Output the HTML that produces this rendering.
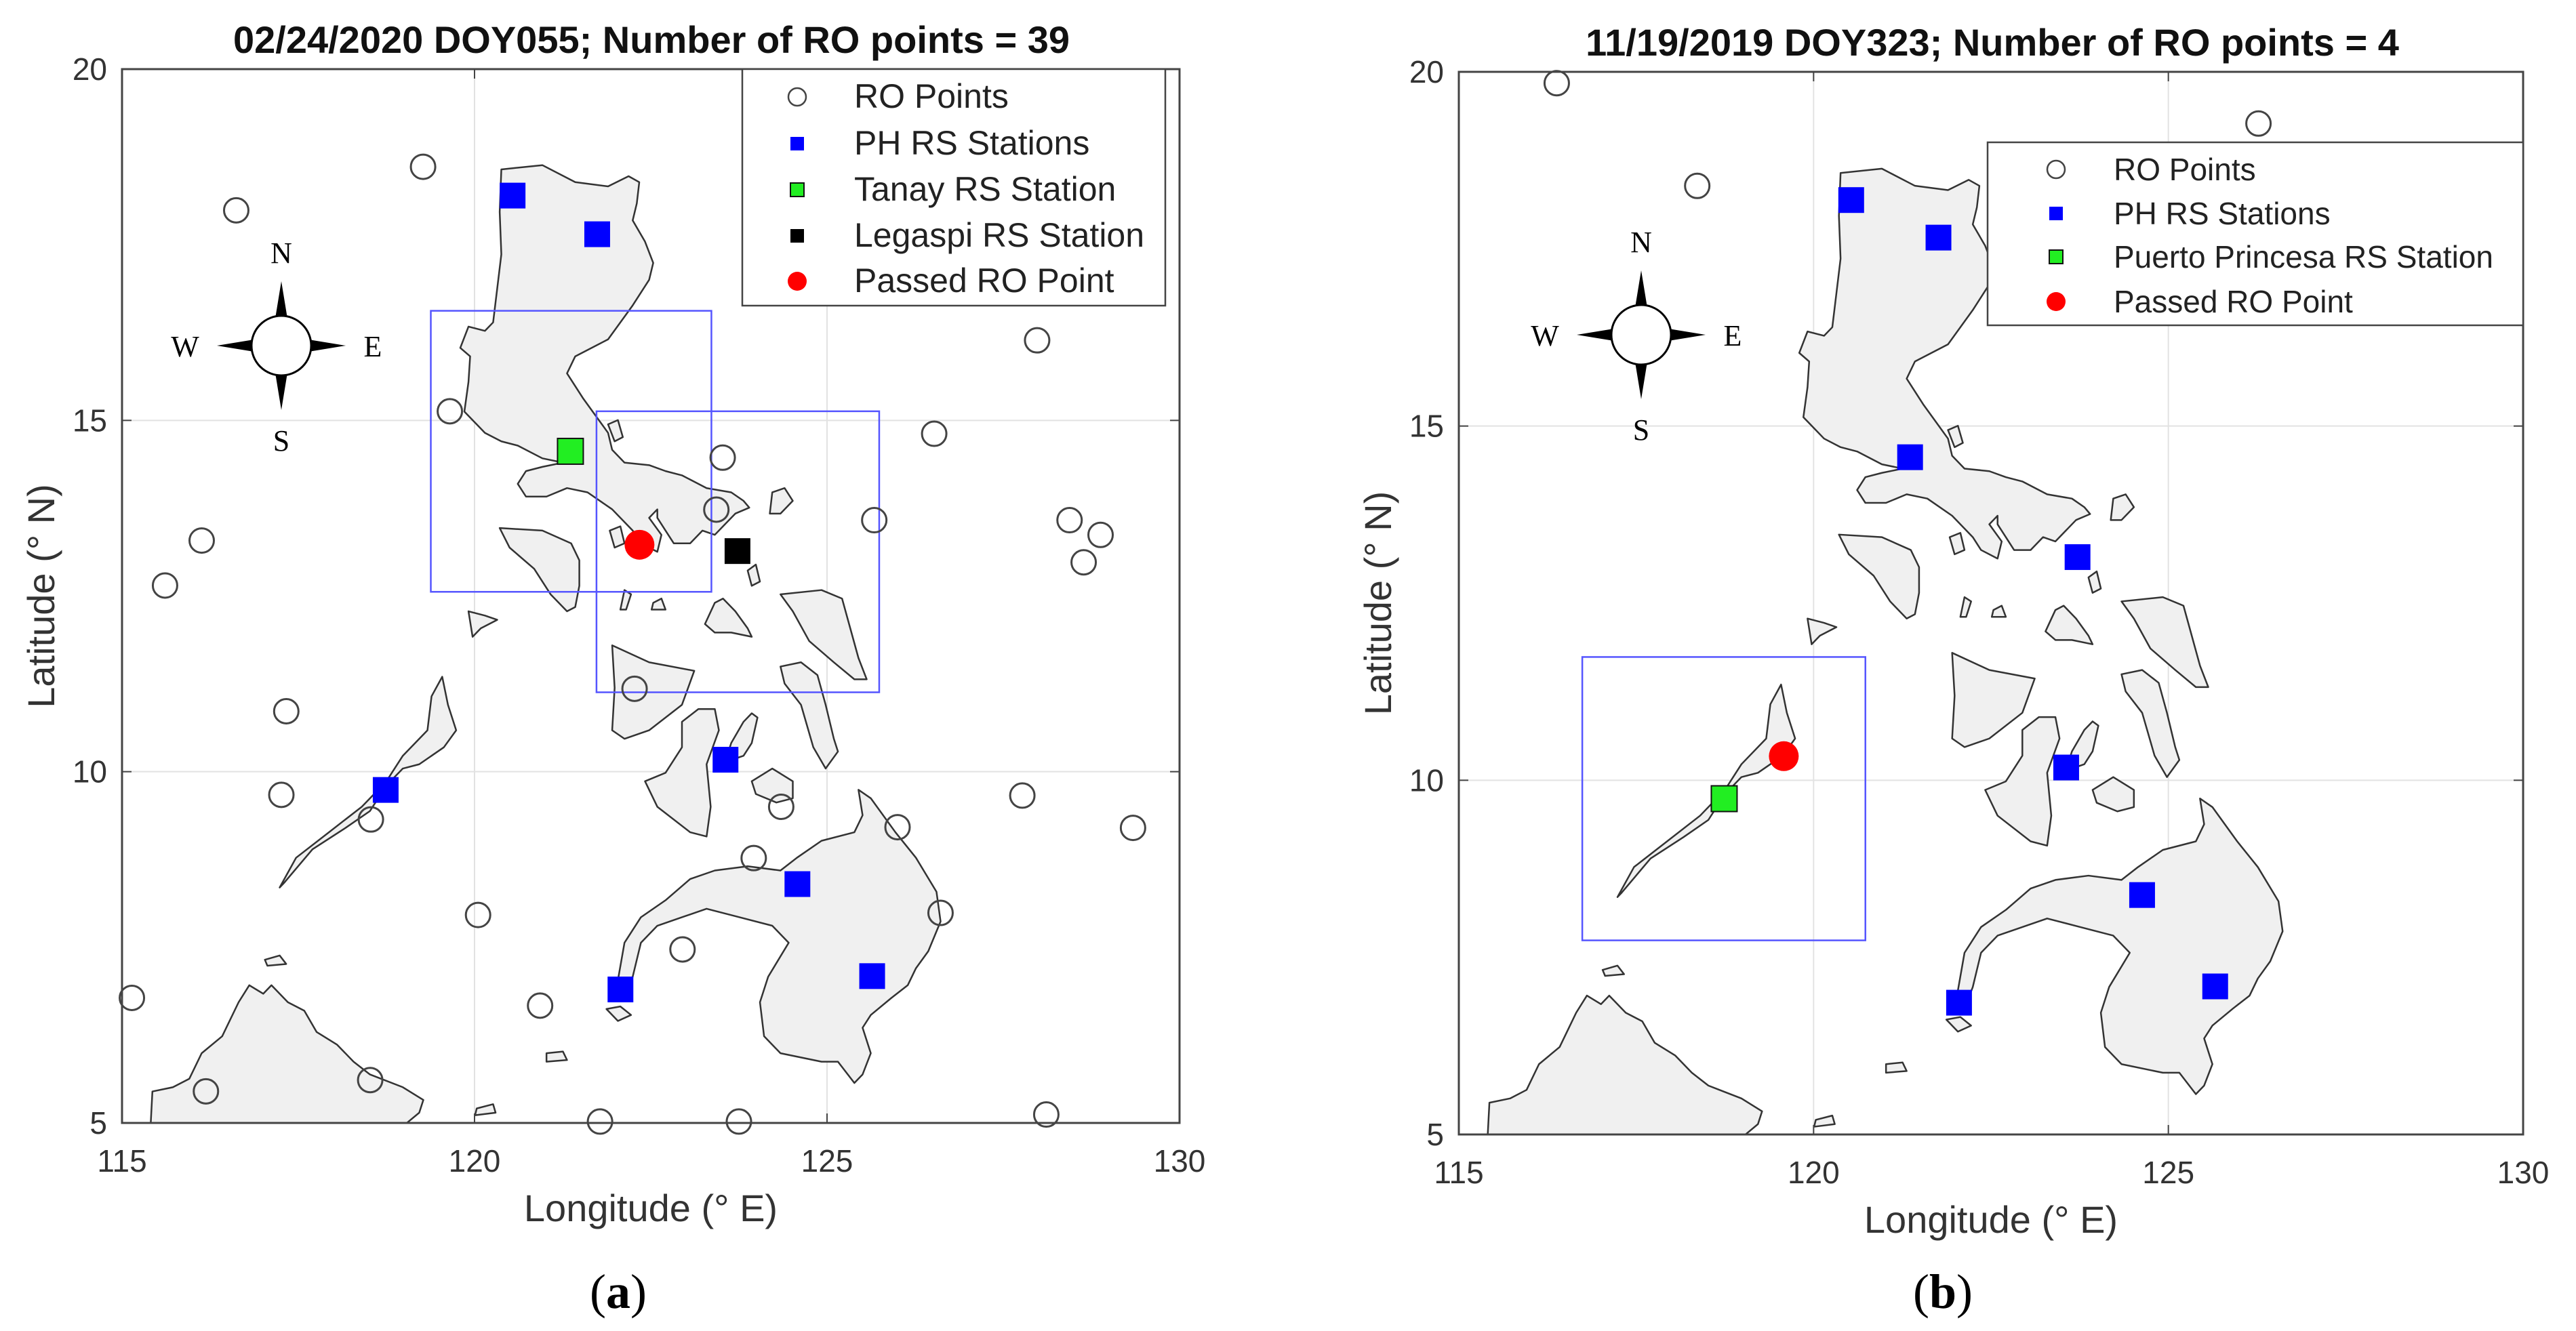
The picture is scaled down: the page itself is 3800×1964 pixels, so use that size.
<!DOCTYPE html>
<html><head><meta charset="utf-8"><style>
body{margin:0;background:#fff;}
svg{display:block;font-family:"Liberation Sans",sans-serif;}
</style></head><body>
<svg id="fig" width="3800" height="1964" xmlns="http://www.w3.org/2000/svg"></svg>
<script>
// ---- data (lon, lat) ----
const roLonA=[116.62,119.27,119.65,116.13,115.61,117.33,117.26,118.53,120.05,120.93,115.14,116.19,118.52,121.78,123.75,122.27,123.52,123.43,125.67,126.52,127.98,128.44,128.88,128.64,127.77,129.34,126.00,126.61,124.35,123.96,122.95,128.11];
const roLatA=[17.99,18.61,15.13,13.29,12.65,10.86,9.67,9.32,7.96,6.67,6.78,5.45,5.61,5.02,5.02,11.18,14.47,13.73,13.58,14.81,16.14,13.58,13.37,12.98,9.66,9.20,9.21,7.99,9.50,8.77,7.47,5.12];
const phLonA=[120.54,121.74,123.56,118.74,124.58,122.07,125.64];
const phLatA=[18.2,17.65,10.17,9.74,8.40,6.90,7.09];
const roLonB=[116.38,118.36,126.27];
const roLatB=[19.84,18.39,19.27];
const phLonB=[120.53,121.76,121.36,123.72,123.56,124.63,122.05,125.66];
const phLatB=[18.19,17.66,14.56,13.15,10.18,8.38,6.86,7.09];
const greenA=[121.36,14.56], blackA=[123.73,13.14], redA=[122.34,13.23];
const greenB=[118.74,9.74], redB=[119.58,10.34];
const boxesA=[[119.38,123.36,12.56,16.56],[121.73,125.74,11.13,15.13]];
const boxesB=[[116.74,120.73,7.74,11.74]];
const xTicks=[115,120,125,130], yTicks=[5,10,15,20];
// land outlines in reference-grid units (converted to lon/lat below)
const landRef=[
[[610,200],[660,195],[700,215],[740,220],[765,208],[778,215],[775,240],[770,260],[785,285],[795,310],[790,330],[770,360],[740,400],[700,420],[690,440],[710,470],[725,490],[740,510],[745,530],[760,545],[790,548],[810,555],[830,560],[860,575],[890,580],[905,590],[912,598],[895,605],[880,620],[870,630],[855,625],[840,640],[820,640],[810,625],[800,610],[800,600],[790,610],[805,630],[800,650],[780,640],[770,625],[745,600],[715,580],[690,575],[665,585],[640,585],[630,570],[640,555],[660,550],[685,545],[660,540],[630,525],[610,520],[590,510],[565,485],[570,450],[572,420],[560,410],[570,385],[590,390],[600,380],[605,340],[610,300],[608,250]],
[[608,622],[660,625],[695,640],[705,660],[705,690],[700,715],[690,720],[670,700],[650,670],[620,645]],
[[742,625],[755,620],[760,640],[748,645]],
[[740,500],[752,495],[758,515],[748,520]],
[[940,580],[955,575],[965,590],[950,605],[937,605]],
[[910,672],[920,665],[925,685],[915,690]],
[[745,760],[790,780],[845,790],[830,830],[790,860],[760,870],[745,860],[748,810]],
[[830,850],[850,835],[870,835],[875,860],[860,900],[865,950],[860,985],[840,980],[800,950],[785,920],[810,910],[830,880]],
[[905,850],[915,840],[922,845],[915,875],[905,890],[890,895],[880,905],[890,875]],
[[915,920],[940,905],[965,920],[965,940],[945,945],[920,935]],
[[950,700],[1000,695],[1025,705],[1035,740],[1045,775],[1055,800],[1040,800],[1015,780],[985,755],[965,720]],
[[950,785],[975,780],[995,795],[1005,830],[1015,870],[1020,885],[1005,905],[990,880],[975,830],[955,805]],
[[870,710],[880,705],[895,720],[910,740],[915,750],[890,745],[870,745],[858,735]],
[[760,695],[768,700],[762,718],[755,718]],
[[795,710],[805,705],[810,718],[793,718]],
[[750,1165],[760,1110],[780,1080],[810,1060],[840,1035],[870,1025],[910,1020],[950,1025],[970,1010],[1000,990],[1040,980],[1050,960],[1045,930],[1060,940],[1090,980],[1115,1010],[1140,1050],[1145,1085],[1130,1120],[1115,1140],[1105,1160],[1085,1175],[1060,1195],[1050,1210],[1060,1240],[1050,1265],[1040,1275],[1020,1250],[1000,1250],[950,1240],[930,1220],[925,1180],[935,1150],[960,1110],[940,1090],[900,1080],[860,1070],[830,1080],[800,1090],[780,1110],[770,1150],[762,1170]],
[[340,1045],[360,1010],[400,980],[440,950],[470,920],[490,890],[520,860],[525,820],[538,797],[545,830],[555,860],[540,880],[510,900],[490,905],[470,925],[450,955],[420,975],[380,1000],[345,1040]],
[[570,720],[590,725],[605,730],[585,740],[575,750]],
[[183,1322],[185,1285],[210,1280],[230,1270],[245,1240],[270,1220],[290,1180],[303,1160],[320,1170],[330,1160],[350,1180],[370,1190],[385,1215],[410,1230],[430,1250],[450,1265],[490,1280],[515,1295],[510,1310],[495,1322]],
[[322,1130],[340,1125],[348,1135],[325,1137]],
[[665,1240],[685,1238],[690,1248],[665,1250]],
[[580,1305],[600,1300],[603,1310],[578,1313]],
[[738,1188],[755,1185],[768,1195],[752,1202]]
];
const land=landRef.map(p=>p.map(([a,b])=>[115+(a-148)/85.87,20-(b-82)/82.67]));

const NS="http://www.w3.org/2000/svg";
const fig=document.getElementById('fig');
function mk(tag,attrs,parent,text){const e=document.createElementNS(NS,tag);for(const k in attrs)e.setAttribute(k,attrs[k]);if(text!==undefined)e.textContent=text;(parent||fig).appendChild(e);return e;}

function panel(P){
  const g=mk('g',{});
  
  
  const sx=v=>P.x0+(v-115)/15*(P.x1-P.x0);
  const sy=v=>P.y1-(v-5)/15*(P.y1-P.y0);
  const cid='clip'+P.name;
  const cp=mk('clipPath',{id:cid},g);mk('rect',{x:P.x0,y:P.y0,width:P.x1-P.x0,height:P.y1-P.y0},cp);
  xTicks.forEach(t=>{const l=mk('line',{x1:sx(t),x2:sx(t),y1:P.y0,y2:P.y1,stroke:'#e2e2e2','stroke-width':2},g);});
  yTicks.forEach(t=>{const l=mk('line',{y1:sy(t),y2:sy(t),x1:P.x0,x2:P.x1,stroke:'#e2e2e2','stroke-width':2},g);});
  const lg=mk('g',{'clip-path':'url(#'+cid+')'},g);
  land.forEach(poly=>{const p=mk('polygon',{points:poly.map(([a,b])=>sx(a)+','+sy(b)).join(' '),fill:'#f0f0f0',stroke:'#333','stroke-width':2.5,'stroke-linejoin':'round'},lg);});
  P.boxes.forEach(b=>{const r=mk('rect',{x:sx(b[0]),y:sy(b[3]),width:sx(b[1])-sx(b[0]),height:sy(b[2])-sy(b[3]),fill:'none',stroke:'#5555ff','stroke-width':2.5},g);});
  P.roLon.forEach((v,i)=>{const c=mk('circle',{cx:sx(v),cy:sy(P.roLat[i]),r:18,fill:'none',stroke:'#444','stroke-width':3},g);});
  P.phLon.forEach((v,i)=>{const r=mk('rect',{x:sx(v)-19,y:sy(P.phLat[i])-19,width:38,height:38,fill:'#0000ff'},g);});
  {const r=mk('rect',{x:sx(P.green[0])-19,y:sy(P.green[1])-19,width:38,height:38,fill:'#22ee22',stroke:'#111','stroke-width':2},g);}
  if(P.black){const r=mk('rect',{x:sx(P.black[0])-19,y:sy(P.black[1])-19,width:38,height:38,fill:'#000'},g);}
  {const c=mk('circle',{cx:sx(P.red[0]),cy:sy(P.red[1]),r:22,fill:'#ff0000'},g);}
  {const r=mk('rect',{x:P.x0,y:P.y0,width:P.x1-P.x0,height:P.y1-P.y0,fill:'none',stroke:'#444','stroke-width':3},g);}
  xTicks.forEach(t=>{mk('line',{x1:sx(t),x2:sx(t),y1:P.y1,y2:P.y1-14,stroke:'#444','stroke-width':2},g);mk('line',{x1:sx(t),x2:sx(t),y1:P.y0,y2:P.y0+14,stroke:'#444','stroke-width':2},g);
    const tx=mk('text',{x:sx(t),y:P.y1+72,'font-size':46,fill:'#333','text-anchor':'middle'},g,String(t));});
  yTicks.forEach(t=>{mk('line',{x1:P.x0,x2:P.x0+14,y1:sy(t),y2:sy(t),stroke:'#444','stroke-width':2},g);mk('line',{x1:P.x1,x2:P.x1-14,y1:sy(t),y2:sy(t),stroke:'#444','stroke-width':2},g);
    const tx=mk('text',{x:P.x0-22,y:sy(t)+16,'font-size':46,fill:'#333','text-anchor':'end'},g,String(t));});
  const cx=(P.x0+P.x1)/2, cy=(P.y0+P.y1)/2;
  {const t=mk('text',{x:P.titleX,y:P.y0-24,'font-size':56,'font-weight':'bold','text-anchor':'middle',fill:'#111'},g,P.title);}
  {const t=mk('text',{x:cx,y:P.y1+145,'font-size':56,'text-anchor':'middle',fill:'#333'},g,'Longitude (° E)');}
  {const t=mk('text',{x:0,y:0,'font-size':56,'text-anchor':'middle',fill:'#333',transform:'translate('+(P.x0-100)+','+cy+') rotate(-90)'},g,'Latitude (° N)');}
  {const t=mk('text',{x:P.labX,y:1930,'font-size':72,'text-anchor':'middle','font-family':'Liberation Serif, serif',fill:'#000'},g);
   t.innerHTML='('+'<tspan font-weight="bold">'+P.lab+'</tspan>)';}
  const cm=mk('g',{},g);
  const [ox,oy]=P.compass;
  mk('polygon',{points:`${ox},${oy-95} ${ox+9},${oy-40} ${ox},${oy} ${ox-9},${oy-40}`,fill:'#000'},cm);
  mk('polygon',{points:`${ox},${oy+95} ${ox+9},${oy+40} ${ox},${oy} ${ox-9},${oy+40}`,fill:'#000'},cm);
  mk('polygon',{points:`${ox-95},${oy} ${ox-40},${oy-9} ${ox},${oy} ${ox-40},${oy+9}`,fill:'#000'},cm);
  mk('polygon',{points:`${ox+95},${oy} ${ox+40},${oy-9} ${ox},${oy} ${ox+40},${oy+9}`,fill:'#000'},cm);
  mk('circle',{cx:ox,cy:oy,r:44,fill:'#fff',stroke:'#000','stroke-width':3},cm);
  const cf={'font-size':44,'font-family':'Liberation Serif, serif','text-anchor':'middle',fill:'#000'};
  mk('text',Object.assign({x:ox,y:oy-122},cf),cm,'N');
  mk('text',Object.assign({x:ox,y:oy+155},cf),cm,'S');
  mk('text',Object.assign({x:ox-142,y:oy+16},cf),cm,'W');
  mk('text',Object.assign({x:ox+135,y:oy+16},cf),cm,'E');
  const L=P.legend;
  const lgd=mk('g',{},g);
  mk('rect',{x:L.x0,y:L.y0,width:L.x1-L.x0,height:L.y1-L.y0,fill:'#fff',stroke:'#444','stroke-width':2.5},lgd);
  L.items.forEach((it,i)=>{
    const y=L.ys[i];
    const e=mk('g',{},lgd);
    if(it[0]==='o')mk('circle',{cx:L.mx,cy:y,r:13,fill:'none',stroke:'#444','stroke-width':2.5},e);
    else if(it[0]==='r')mk('circle',{cx:L.mx,cy:y,r:14,fill:'#f00'},e);
    else mk('rect',{x:L.mx-10,y:y-10,width:20,height:20,fill:it[0],stroke:it[0]==='#22ee22'?'#111':'none','stroke-width':2},e);
    mk('text',{x:L.tx,y:y+16,'font-size':L.fs,fill:'#222'},e,it[1]);
  });
}
panel({name:'panel-a',x0:180,x1:1740,y0:102,y1:1657,roLon:roLonA,roLat:roLatA,phLon:phLonA,phLat:phLatA,green:greenA,black:blackA,red:redA,boxes:boxesA,
 title:'02/24/2020 DOY055; Number of RO points = 39',titleX:961,lab:'a',labX:912,compass:[415,510],
 legend:{fs:50,x0:1095,x1:1719,y0:102,y1:451,mx:1176,tx:1260,ys:[143,212,280,348,415],items:[['o','RO Points'],['#0000ff','PH RS Stations'],['#22ee22','Tanay RS Station'],['#000','Legaspi RS Station'],['r','Passed RO Point']]}});
panel({name:'panel-b',x0:2152,x1:3722,y0:106,y1:1674,roLon:roLonB,roLat:roLatB,phLon:phLonB,phLat:phLatB,green:greenB,black:null,red:redB,boxes:boxesB,
 title:'11/19/2019 DOY323; Number of RO points = 4',titleX:2939,lab:'b',labX:2866,compass:[2421,494],
 legend:{fs:46,x0:2932,x1:3722,y0:210,y1:480,mx:3033,tx:3118,ys:[250,315,379,445],items:[['o','RO Points'],['#0000ff','PH RS Stations'],['#22ee22','Puerto Princesa RS Station'],['r','Passed RO Point']]}});
</script>
</body></html>
